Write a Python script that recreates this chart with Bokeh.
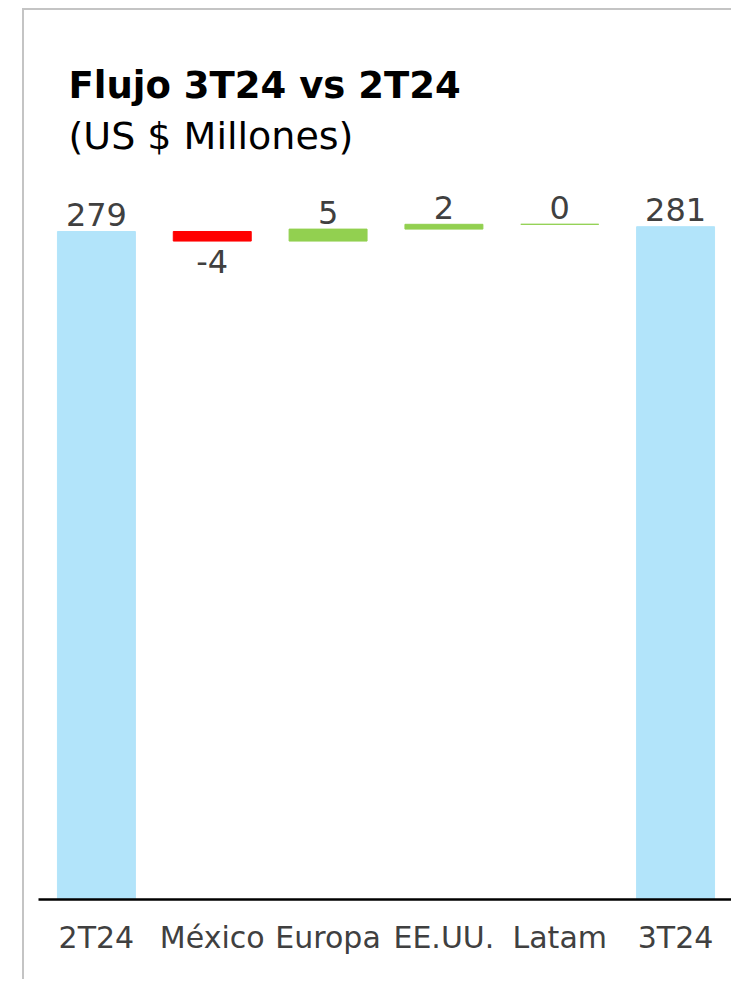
from bokeh.plotting import figure
from bokeh.models import ColumnDataSource, Range1d, FactorRange, Label
from bokeh.core.properties import value
from bokeh.embed import file_html
from bokeh.resources import INLINE

# ---- data ----
categories = ["2T24", "México", "Europa", "EE.UU.", "Latam", "3T24"]
start_value = 279
deltas = [-4, 5, 2, 0]
end_value = 281
value_labels = ["279", "-4", "5", "2", "0", "281"]

title_text = "Flujo 3T24 vs 2T24"
subtitle_text = "(US $ Millones)"

TOTAL_C = "#b2e4fa"
NEG_C = "#ff0000"
POS_C = "#92d050"
TXT_C = "#404040"
FONT = "DejaVu Sans"

# ---- waterfall geometry from the values ----
bottoms, tops, colors = [0], [start_value], [TOTAL_C]
run = start_value
for d in deltas:
    bottoms.append(run)
    tops.append(run + d)
    colors.append(NEG_C if d < 0 else POS_C)
    run += d
bottoms.append(0)
tops.append(end_value)
colors.append(TOTAL_C)

label_y, label_off = [], []
for b, t in zip(bottoms, tops):
    label_y.append(t)
    label_off.append(20 if t < b else -17)

src = ColumnDataSource(dict(cat=categories, bottom=bottoms, top=tops, color=colors,
                            label=value_labels, ly=label_y, loff=label_off))

p = figure(x_range=FactorRange(*categories, range_padding=0),
           y_range=Range1d(0, 371.3),
           width=709, height=971, output_backend="svg", toolbar_location=None,
           min_border_left=14, min_border_right=0, min_border_top=0, min_border_bottom=82)
p.margin = (8, 0, 0, 22)
p.styles = {"border-left": "2px solid #c4c4c4", "border-top": "2px solid #c4c4c4"}

p.vbar(x="cat", bottom="bottom", top="top", width=0.673, fill_color="color",
       line_color="color", line_width=1, source=src)

p.text(x="cat", y="ly", text="label", y_offset="loff", source=src,
       text_align="center", text_baseline="alphabetic",
       text_font=value(FONT), text_font_size="32px", text_color=TXT_C)

p.add_layout(Label(x=30, y=814, x_units="screen", y_units="screen", text=title_text,
                   text_font=FONT, text_font_size="37px", text_font_style="bold",
                   text_color="black", text_baseline="alphabetic"))
p.add_layout(Label(x=30, y=764, x_units="screen", y_units="screen", text=subtitle_text,
                   text_font=FONT, text_font_size="38px", text_color="black",
                   text_baseline="alphabetic"))

p.yaxis.visible = False
p.xgrid.visible = False
p.ygrid.visible = False
p.outline_line_color = None
p.xaxis.axis_line_color = "black"
p.xaxis.axis_line_width = 2.5
p.xaxis.major_tick_line_color = None
p.xaxis.minor_tick_line_color = None
p.xaxis.major_tick_out = 0
p.xaxis.major_label_standoff = 20
p.xaxis.major_label_text_font = FONT
p.xaxis.major_label_text_font_size = "30px"
p.xaxis.major_label_text_color = TXT_C

open("out.html", "w").write(file_html(p, INLINE))
